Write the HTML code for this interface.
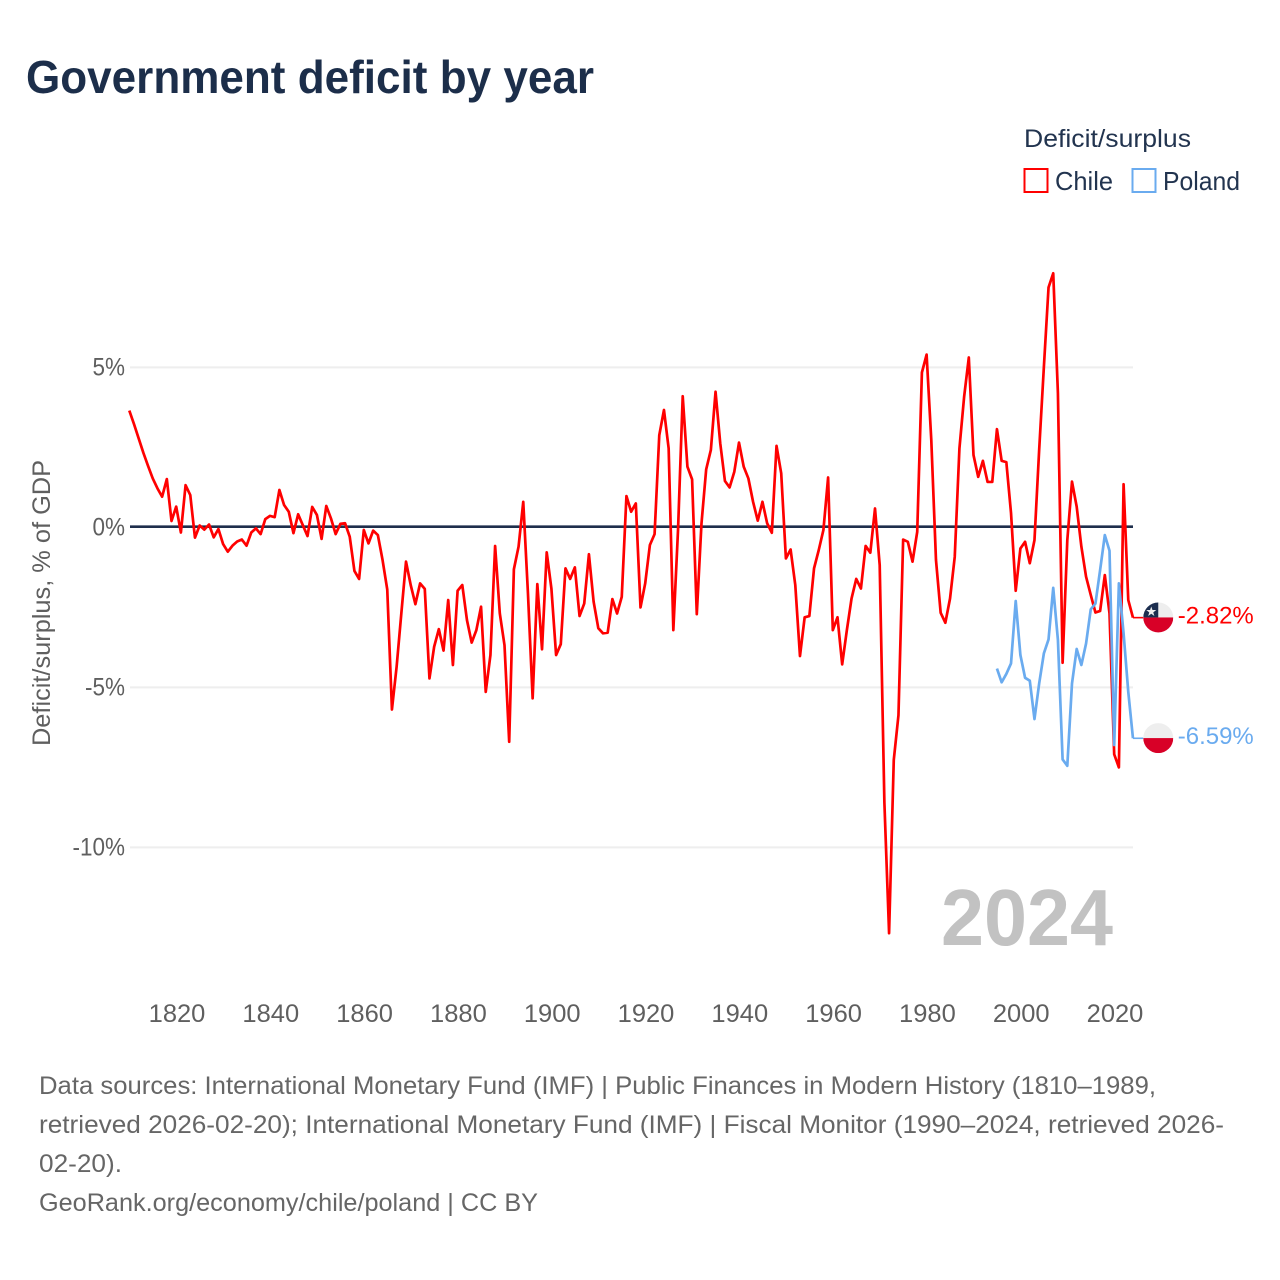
<!DOCTYPE html>
<html lang="en">
<head>
<meta charset="utf-8">
<title>Government deficit by year</title>
<style>
html,body{margin:0;padding:0;background:#fff;}
svg{display:block;font-family:"Liberation Sans",sans-serif;}
</style>
</head>
<body>
<svg id="chart" xmlns="http://www.w3.org/2000/svg" width="1280" height="1280" viewBox="0 0 1280 1280">
  <defs>
    <clipPath id="flag-clip"><circle cx="0" cy="0" r="15"></circle></clipPath>
  </defs>
  <rect x="0" y="0" width="1280" height="1280" fill="#ffffff"></rect>
  <text x="26" y="93" font-size="46" font-weight="700" fill="#1c2e4a" textLength="568" lengthAdjust="spacingAndGlyphs">Government deficit by year</text>

  <g>
    <text x="1024" y="147" font-size="25" fill="#22344f" textLength="167" lengthAdjust="spacingAndGlyphs">Deficit/surplus</text>
    <rect x="1024.5" y="169" width="23" height="23" fill="#ffffff" stroke="#ff0000" stroke-width="2"></rect>
    <text x="1055" y="190" font-size="26" fill="#22344f" textLength="58" lengthAdjust="spacingAndGlyphs">Chile</text>
    <rect x="1132.5" y="169" width="23" height="23" fill="#ffffff" stroke="#6aabef" stroke-width="2"></rect>
    <text x="1163" y="190" font-size="26" fill="#22344f" textLength="77" lengthAdjust="spacingAndGlyphs">Poland</text>
  </g>

  <g id="grid"></g>
  <g id="y-ticks"></g>
  <g id="x-ticks"></g>
  <text transform="translate(50,603) rotate(-90)" text-anchor="middle" font-size="25" fill="#5f5f5f" textLength="286" lengthAdjust="spacingAndGlyphs">Deficit/surplus, % of GDP</text>

  <text x="941" y="945" font-size="80" font-weight="700" fill="#c2c2c2" textLength="172" lengthAdjust="spacingAndGlyphs">2024</text>

  <g id="series"></g>
  <g id="ends"></g>

  <g font-size="25" fill="#666666">
    <text x="39" y="1094" textLength="1117" lengthAdjust="spacingAndGlyphs">Data sources: International Monetary Fund (IMF) | Public Finances in Modern History (1810–1989,</text>
    <text x="39" y="1133" textLength="1185" lengthAdjust="spacingAndGlyphs">retrieved 2026-02-20); International Monetary Fund (IMF) | Fiscal Monitor (1990–2024, retrieved 2026-</text>
    <text x="39" y="1172" textLength="83" lengthAdjust="spacingAndGlyphs">02-20).</text>
    <text x="39" y="1211" textLength="499" lengthAdjust="spacingAndGlyphs">GeoRank.org/economy/chile/poland | CC BY</text>
  </g>
</svg>

<script>
const chileYears = [
1810,1811,1812,1813,1814,1815,1816,1817,1818,1819,
1820,1821,1822,1823,1824,1825,1826,1827,1828,1829,
1830,1831,1832,1833,1834,1835,1836,1837,1838,1839,
1840,1841,1842,1843,1844,1845,1846,1847,1848,1849,
1850,1851,1852,1853,1854,1855,1856,1857,1858,1859,
1860,1861,1862,1863,1864,1865,1866,1867,1868,1869,
1870,1871,1872,1873,1874,1875,1876,1877,1878,1879,
1880,1881,1882,1883,1884,1885,1886,1887,1888,1889,
1890,1891,1892,1893,1894,1895,1896,1897,1898,1899,
1900,1901,1902,1903,1904,1905,1906,1907,1908,1909,
1910,1911,1912,1913,1914,1915,1916,1917,1918,1919,
1920,1921,1922,1923,1924,1925,1926,1927,1928,1929,
1930,1931,1932,1933,1934,1935,1936,1937,1938,1939,
1940,1941,1942,1943,1944,1945,1946,1947,1948,1949,
1950,1951,1952,1953,1954,1955,1956,1957,1958,1959,
1960,1961,1962,1963,1964,1965,1966,1967,1968,1969,
1970,1971,1972,1973,1974,1975,1976,1977,1978,1979,
1980,1981,1982,1983,1984,1985,1986,1987,1988,1989,
1990,1991,1992,1993,1994,1995,1996,1997,1998,1999,
2000,2001,2002,2003,2004,2005,2006,2007,2008,2009,
2010,2011,2012,2013,2014,2015,2016,2017,2018,2019,
2020,2021,2022,2023,2024];
const chileValues = [
3.65,3.23,2.78,2.33,1.92,1.53,1.22,.96,1.51,.20,
.65,-.16,1.32,1.01,-.32,.06,-.07,.09,-.31,-.05,
-.52,-.76,-.57,-.44,-.38,-.57,-.16,-.03,-.21,.26,
.36,.32,1.17,.70,.49,-.18,.41,.07,-.27,.64,
.39,-.36,.67,.28,-.21,.11,.13,-.29,-1.36,-1.61,
-.08,-.50,-.10,-.24,-1.02,-1.94,-5.69,-4.35,-2.69,-1.07,
-1.80,-2.40,-1.75,-1.92,-4.72,-3.73,-3.18,-3.85,-2.27,-4.30,
-1.98,-1.80,-2.90,-3.60,-3.21,-2.48,-5.14,-3.99,-.58,-2.69,
-3.68,-6.70,-1.31,-.60,.80,-2.06,-5.34,-1.77,-3.81,-.78,
-1.91,-3.99,-3.65,-1.28,-1.61,-1.25,-2.77,-2.38,-.84,-2.32,
-3.15,-3.31,-3.29,-2.24,-2.69,-2.17,.98,.49,.75,-2.50,
-1.75,-.55,-.21,2.88,3.67,2.47,-3.21,-.08,4.10,1.90,
1.50,-2.71,.12,1.81,2.42,4.24,2.63,1.45,1.25,1.74,
2.65,1.90,1.53,.80,.21,.80,.13,-.17,2.55,1.69,
-.97,-.69,-1.80,-4.02,-2.81,-2.77,-1.28,-.71,-.08,1.56,
-3.21,-2.81,-4.28,-3.21,-2.22,-1.61,-1.91,-.58,-.79,.59,
-1.18,-8.60,-12.68,-7.27,-5.87,-.38,-.45,-1.07,-.14,4.84,
5.40,2.73,-1.02,-2.67,-2.98,-2.22,-.92,2.47,4.08,5.31,
2.26,1.58,2.08,1.42,1.42,3.07,2.08,2.04,.45,-1.98,
-.66,-.45,-1.12,-.40,2.42,5.00,7.50,7.94,4.19,-4.23,
-.40,1.43,.65,-.60,-1.54,-2.11,-2.66,-2.61,-1.49,-2.69,
-7.09,-7.50,1.35,-2.27,-2.82];
const polandYears = [
1995,1996,1997,1998,1999,
2000,2001,2002,2003,2004,2005,2006,2007,2008,2009,
2010,2011,2012,2013,2014,2015,2016,2017,2018,2019,
2020,2021,2022,2023,2024];
const polandValues = [
-4.41,-4.84,-4.58,-4.25,-2.30,
-3.99,-4.70,-4.79,-5.99,-4.88,-3.94,-3.50,-1.89,-3.52,-7.25,
-7.45,-4.88,-3.80,-4.30,-3.63,-2.56,-2.38,-1.33,-.24,-.73,
-6.80,-1.75,-3.31,-5.14,-6.59];
const yTickValues = [5,0,-5,-10];
const yTickLabels = ['5%','0%','-5%','-10%'];
const xTickValues = [1820,1840,1860,1880,1900,1920,1940,1960,1980,2000,2020];
const xTickLabels = ['1820','1840','1860','1880','1900','1920','1940','1960','1980','2000','2020'];

const NS = 'http://www.w3.org/2000/svg';
const RED = '#ff0000';
const BLUE = '#6aabef';
function xScale(year){ return 129.3 + (year - 1810) * 4.69; }
function yScale(value){ return 527.4 - value * 32; }
function make(tag, attrs, parent){
  const el = document.createElementNS(NS, tag);
  for (const k in attrs) el.setAttribute(k, attrs[k]);
  parent.appendChild(el);
  return el;
}
function squeeze(el, factor){
  el.setAttribute('textLength', (el.getComputedTextLength() * factor).toFixed(1));
  el.setAttribute('lengthAdjust', 'spacingAndGlyphs');
}

const grid = document.getElementById('grid');
const yTicks = document.getElementById('y-ticks');
const xTicks = document.getElementById('x-ticks');
const seriesGroup = document.getElementById('series');
const ends = document.getElementById('ends');

yTickValues.forEach(function(v, i){
  const isZero = v === 0;
  const line = make('line', {x1:130, x2:1133, y1:yScale(v) - (isZero ? 0.7 : 0), y2:yScale(v) - (isZero ? 0.7 : 0),
    stroke: isZero ? '#1f2f4c' : '#eeeeee', 'stroke-width': isZero ? 2.6 : 2}, grid);
  
  
  const t = make('text', {x:125, y:yScale(v) + 8, 'text-anchor':'end', 'font-size':25, fill:'#5f5f5f'}, yTicks);
  t.textContent = yTickLabels[i];
  
  
  squeeze(t, 0.9);
});

xTickValues.forEach(function(v, i){
  const t = make('text', {x:xScale(v) + 0.8, y:1022, 'text-anchor':'middle', 'font-size':25, fill:'#5f5f5f'}, xTicks);
  t.textContent = xTickLabels[i];
  
  
  squeeze(t, 1.02);
});

function drawSeries(years, values, color, name, width){
  const pts = years.map(function(y, i){ return xScale(y).toFixed(2) + ',' + yScale(values[i]).toFixed(2); }).join(' ');
  const line = make('polyline', {points:pts, fill:'none', stroke:color, 'stroke-width':width, 'stroke-linejoin':'round'}, seriesGroup);
  
  
}
drawSeries(chileYears, chileValues, RED, 'series-line-chile', 2.7);
drawSeries(polandYears, polandValues, BLUE, 'series-line-poland', 2.7);

function drawEnd(years, values, color, name){
  const n = years.length - 1;
  const px = xScale(years[n]);
  const py = yScale(values[n]);
  const cx = px + 25.3;
  const connector = make('line', {x1:px, y1:py, x2:cx - 15, y2:py, stroke:color, 'stroke-width':1.6}, ends);
  
  
  const flag = make('g', {transform:'translate(' + cx + ',' + (py - 0.2) + ')', 'clip-path':'url(#flag-clip)'}, ends);
  
  
  make('rect', {x:-15, y:-15, width:30, height:15, fill:'#eeeeee'}, flag);
  make('rect', {x:-15, y:0, width:30, height:15, fill:'#d80027'}, flag);
  if (name === 'chile') {
    make('rect', {x:-15, y:-15, width:15, height:15, fill:'#1c2e4f'}, flag);
    make('polygon', {points:'-7,-11 -5.8,-7.4 -2,-7.4 -5,-5.1 -3.9,-1.5 -7,-3.7 -10.1,-1.5 -9,-5.1 -12,-7.4 -8.2,-7.4', fill:'#eeeeee'}, flag);
  }
  const label = make('text', {x:cx + 19.5, y:py + 5.8, 'font-size':24, fill:color}, ends);
  label.textContent = values[n].toFixed(2) + '%';
  
  
  label.setAttribute('textLength', '76');
  label.setAttribute('lengthAdjust', 'spacingAndGlyphs');
}
drawEnd(chileYears, chileValues, RED, 'chile');
drawEnd(polandYears, polandValues, BLUE, 'poland');
</script>
</body>
</html>
